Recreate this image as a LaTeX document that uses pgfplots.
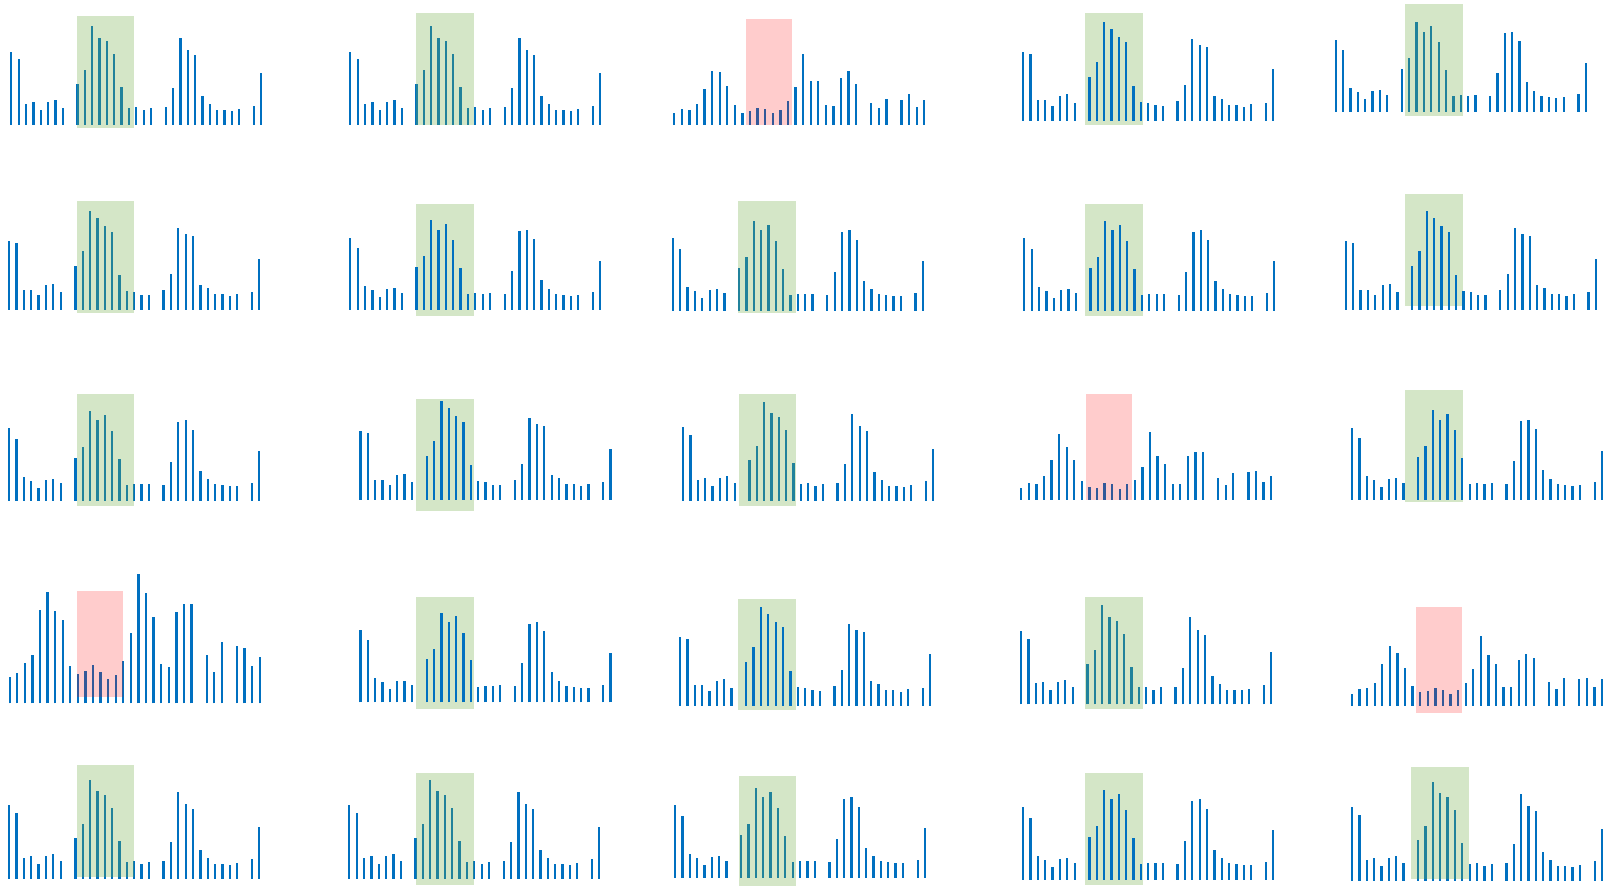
\documentclass[border=0pt]{standalone}
\usepackage{pgfplots}
\usepackage{pgfplotstable}
\pgfplotsset{compat=1.18}
\definecolor{barblue}{HTML}{0070C0}
\definecolor{hlgreen}{HTML}{70AD47}
\definecolor{hlred}{HTML}{FF0000}
\pgfplotsset{
  panelg/.style={hide axis, clip=false, xmin=0, xmax=34, ymin=0, ymax=130, x=3.6765pt, y=0.5pt, anchor=south west},
  panelr/.style={hide axis, clip=false, xmin=0, xmax=33, ymin=0, ymax=130, x=3.788pt, y=0.5pt, anchor=south west},
  nowin/.style={draw=none, fill=none},
  hlg/.style={draw=none, fill=hlgreen, fill opacity=0.3},
  hlr/.style={draw=none, fill=hlred, fill opacity=0.2},
  % T: window drawn over the bars, B: window drawn behind the bars
  gT-pre/.style={nowin}, gT-post/.style={hlg},
  gB-pre/.style={hlg},   gB-post/.style={nowin},
  rT-pre/.style={nowin}, rT-post/.style={hlr},
}
% green-window panels
\pgfplotstableread{
x y
0 73.3
1 65.7
2 21.0
3 22.7
4 14.7
5 22.7
6 24.7
7 17.3
9 40.7
10 54.7
11 99.0
12 87.3
13 83.7
14 70.7
15 37.7
16 17.0
17 17.7
18 14.7
19 17.0
21 17.7
22 36.7
23 87.0
24 74.7
25 69.7
26 28.7
27 20.7
28 14.7
29 14.7
30 14.0
31 15.7
33 19.3
34 52.0
}\tabA
\pgfplotstableread{
x y
0 68.7
1 66.7
2 20.3
3 20.3
4 14.5
5 24.5
6 26.3
7 17.7
9 43.7
10 58.5
11 98.7
12 92.0
13 84.0
14 78.2
15 34.5
16 19.0
17 17.8
18 15.2
19 15.1
21 19.5
22 36.0
23 81.7
24 75.7
25 74.1
26 25.0
27 21.7
28 15.5
29 15.5
30 14.0
31 16.3
33 17.6
34 51.2
}\tabB
\pgfplotstableread{
x y
0 72.3
1 62.0
2 24.0
3 20.0
4 13.0
5 21.0
6 21.5
7 17.2
9 43.0
10 53.5
11 89.7
12 80.3
13 86.0
14 69.5
15 42.0
16 15.6
17 16.5
18 16.4
19 16.8
21 16.0
22 39.0
23 78.7
24 80.3
25 71.0
26 30.0
27 21.3
28 16.3
29 15.3
30 14.3
31 14.5
33 17.6
34 49.3
}\tabC
% red-window panels
\pgfplotstableread{
x y
0 11.7
1 16.3
2 15.3
3 21.3
4 36.3
5 54.0
6 53.0
7 38.7
8 19.7
9 12.3
10 14.0
11 17.0
12 16.0
13 11.7
14 15.0
15 24.0
16 37.7
17 70.7
18 44.0
19 44.3
20 20.0
21 19.0
22 46.7
23 53.7
24 41.3
26 21.7
27 17.3
28 26.3
30 24.7
31 31.0
32 17.7
33 25.0
}\tabD
\pgfplotstableread{
x y
0 12.0
1 17.0
2 16.0
3 24.3
4 39.7
5 66.0
6 52.7
7 39.7
8 19.3
9 13.3
10 12.3
11 17.0
12 16.0
13 11.0
14 15.7
15 20.0
16 32.7
17 67.7
18 44.0
19 36.0
20 16.3
21 16.0
22 44.0
23 48.3
24 47.7
26 22.0
27 15.3
28 27.0
30 28.3
31 29.0
32 18.0
33 24.3
}\tabE
\pgfplotstableread{
x y
0 12.0
1 16.7
2 17.7
3 22.3
4 41.7
5 60.0
6 52.3
7 38.0
8 19.7
9 13.7
10 14.7
11 17.7
12 15.7
13 11.3
14 15.3
15 22.3
16 36.3
17 70.0
18 50.3
19 41.3
20 18.7
21 18.7
22 45.7
23 51.7
24 47.3
26 23.7
27 16.7
28 27.3
30 26.3
31 28.0
32 18.7
33 26.3
}\tabF
\pgfplotstableread{
x y
0 26.3
1 30.7
2 40.0
3 48.3
4 93.0
5 111.7
6 92.3
7 83.0
8 37.3
9 29.3
10 32.3
11 38.3
12 31.0
13 24.7
14 28.3
15 42.3
16 70.7
17 129.7
18 110.7
19 86.3
20 39.0
21 36.3
22 91.0
23 99.3
24 99.3
26 48.0
27 31.0
28 61.0
30 57.3
31 55.3
32 37.3
33 46.7
}\tabG
% #1 style, #2 x0 (px), #3 baseline (px), #4 table, #5-#8 window x1,x2,y1,y2 (data), #9 window kind
\newcommand{\panel}[9]{%
  \begin{axis}[#1, at={(#2*0.5pt,-#3*0.5pt)}]
    \addplot[#9-pre] coordinates {(#5,#7) (#6,#7) (#6,#8) (#5,#8)};
    \addplot[ycomb, draw=barblue, line width=1.15pt] table[x=x,y=y]{#4};
    \addplot[#9-post] coordinates {(#5,#7) (#6,#7) (#6,#8) (#5,#8)};
  \end{axis}}
\begin{document}
\begin{tikzpicture}
\path[use as bounding box] (0,0) rectangle (803pt,-443pt);
% row 1
\panel{panelg}{11.3}{125}{\tabA}{8.92}{16.75}{109}{-2.7}{gT}
\panel{panelg}{350.3}{125}{\tabA}{8.92}{16.85}{112}{0}{gT}
\panel{panelr}{674.3}{125}{\tabD}{9.46}{15.54}{106}{0}{rT}
\panel{panelg}{1023.2}{120.7}{\tabB}{8.38}{16.28}{107.7}{-4.3}{gB}
\panel{panelg}{1335.7}{112}{\tabC}{9.47}{17.26}{108}{-4}{gT}
% row 2
\panel{panelg}{9.2}{310}{\tabB}{9.19}{17.0}{109}{-2.7}{gT}
\panel{panelg}{350.3}{310}{\tabC}{8.92}{16.85}{106}{-5.7}{gB}
\panel{panelg}{672.9}{310.7}{\tabC}{8.92}{16.73}{109.7}{-2}{gT}
\panel{panelg}{1024.3}{310.7}{\tabC}{8.21}{16.16}{106.7}{-5}{gB}
\panel{panelg}{1345.9}{310}{\tabB}{8.08}{15.87}{116}{4.3}{gB}
% row 3
\panel{panelg}{9.2}{500.7}{\tabC}{9.19}{17.0}{106.7}{-5}{gT}
\panel{panelg}{360.5}{500}{\tabB}{7.53}{15.46}{101}{-10.7}{gB}
\panel{panelg}{683.2}{500.7}{\tabA}{7.52}{15.33}{106.7}{-5}{gT}
\panel{panelr}{1021.2}{500}{\tabE}{8.51}{14.6}{106}{0}{rT}
\panel{panelg}{1352}{500}{\tabC}{7.25}{15.04}{110}{-1.7}{gB}
% row 4
\panel{panelr}{9.7}{703.3}{\tabG}{8.88}{14.96}{112.3}{6.6}{rT}
\panel{panelg}{360.5}{702.3}{\tabC}{7.53}{15.46}{105.3}{-6.7}{gB}
\panel{panelg}{680.1}{705.7}{\tabB}{7.94}{15.75}{106.7}{-4.3}{gB}
\panel{panelg}{1021.2}{704.3}{\tabA}{8.64}{16.58}{107.3}{-4.7}{gT}
\panel{panelr}{1352}{705.7}{\tabF}{8.45}{14.52}{98.7}{-7}{rT}
% row 5
\panel{panelg}{9.2}{878.7}{\tabA}{9.19}{17.0}{113.7}{1.4}{gT}
\panel{panelg}{349.3}{878.7}{\tabA}{9.06}{16.99}{105.7}{-6.3}{gT}
\panel{panelg}{675}{877.7}{\tabC}{8.64}{16.44}{101.7}{-8}{gT}
\panel{panelg}{1023.2}{879.7}{\tabC}{8.36}{16.31}{106.7}{-5.3}{gB}
\panel{panelg}{1352}{880.7}{\tabA}{8.08}{15.88}{113.7}{1.7}{gT}
\end{tikzpicture}
\end{document}
